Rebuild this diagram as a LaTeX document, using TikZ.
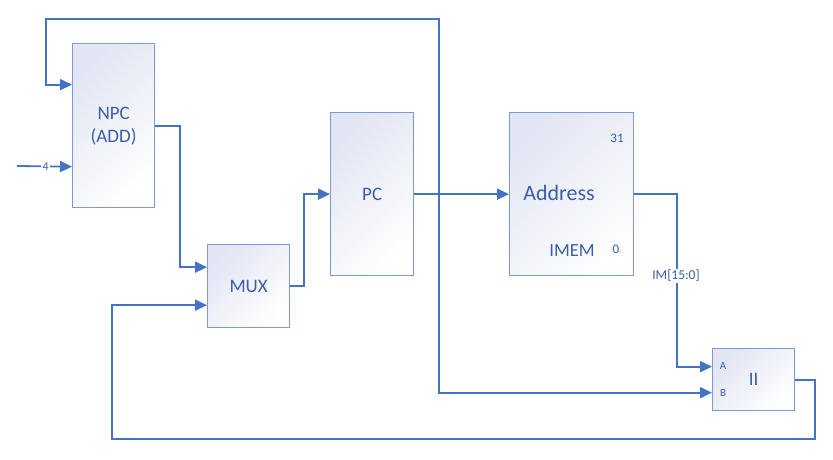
\documentclass[tikz,border=0pt]{standalone}
\usepackage{fontspec}
\setmainfont{Carlito}
\usetikzlibrary{arrows.meta}
\definecolor{conn}{HTML}{4472C4}
\definecolor{bord}{HTML}{7D9AD5}
\definecolor{txt}{HTML}{3B5EA8}
\definecolor{shadetop}{HTML}{E2E5F3}
\begin{document}
\begin{tikzpicture}[x=1pt,y=-1pt,
  blk/.style={draw=bord,line width=1.3pt,top color=shadetop,bottom color=white,shading angle=45,inner sep=0pt,anchor=north west,text=txt,align=center,font=\fontsize{19}{23}\selectfont},
  wire/.style={draw=conn,line width=1.8pt,-{Triangle[length=12pt,width=11pt]}},
  line/.style={draw=conn,line width=1.8pt},
  lbl/.style={text=txt,inner sep=1pt}]
\useasboundingbox (0,0) rectangle (833,459);
% blocks
\node[blk,minimum width=82pt,minimum height=164pt] (npc) at (72,43) {NPC\\(ADD)};
\node[blk,minimum width=82pt,minimum height=83pt] (mux) at (207,244) {MUX};
\node[blk,minimum width=83pt,minimum height=163pt] (pc) at (330,112) {PC};
\node[blk,minimum width=124pt,minimum height=163pt] (imem) at (509,112) {};
\node[blk,minimum width=82pt,minimum height=62pt] (ii) at (712,348) {II};
% IMEM texts
\node[lbl,font=\fontsize{22}{26}\selectfont] (addr) at (559,193) {Address};
\node[lbl,font=\fontsize{13}{15}\selectfont] (b31) at (617,138) {31};
\node[lbl,font=\fontsize{18.5}{22}\selectfont] (imemt) at (572,251) {IMEM};
\node[lbl,font=\fontsize{13}{15}\selectfont] (b0) at (616,249) {0};
% II port texts
\node[lbl,font=\fontsize{11}{13}\selectfont] (pa) at (723,366) {A};
\node[lbl,font=\fontsize{11}{13}\selectfont] (pb) at (723,393) {B};
% coordinates
\coordinate (in4) at (17,166);
\coordinate (j) at (439,193);
\coordinate (tr) at (439,19);
\coordinate (tl) at (46,19);
\coordinate (br) at (815,439);
\coordinate (bl) at (112,439);
% connectors
\draw[wire] (in4) -- node[lbl,fill=white,inner sep=1.5pt,font=\fontsize{12}{14}\selectfont,pos=0.52] (four) {4} ([yshift=-41pt]npc.west);
\draw[wire] (npc.east) -- ++(25,0) |- ([yshift=19pt]mux.west);
\draw[wire] (mux.east) -- ++(14,0) |- (pc.west);
\draw[wire] (pc.east) -- (imem.west);
\draw[wire] (j) -- (tr) -- (tl) |- ([yshift=41pt]npc.west);
\draw[wire] (j) |- ([yshift=-13pt]ii.west);
\draw[wire] (imem.east) -- ++(43,0) |- ([yshift=13pt]ii.west);
\node[lbl,fill=white,font=\fontsize{13.5}{16}\selectfont] (im) at (676,276) {IM[15:0]};
\draw[wire] (ii.east) -| (br) -- (bl) |- ([yshift=-19pt]mux.west);
\end{tikzpicture}
\end{document}
